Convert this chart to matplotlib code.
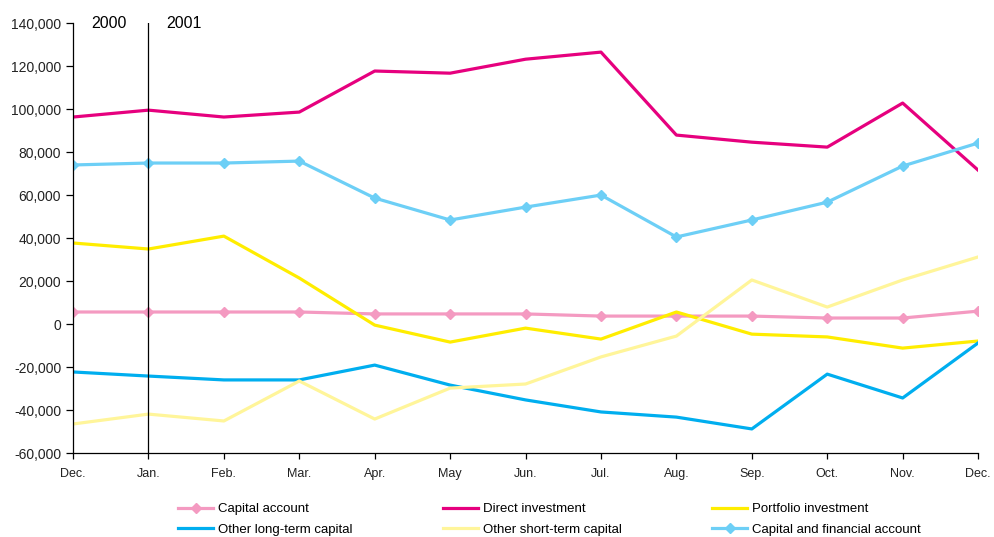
import matplotlib
matplotlib.use("Agg")
import matplotlib.pyplot as plt
from matplotlib.ticker import FuncFormatter

plt.rcParams['font.family'] = ['Liberation Sans', 'DejaVu Sans']

months = ["Dec.", "Jan.", "Feb.", "Mar.", "Apr.", "May", "Jun.", "Jul.",
          "Aug.", "Sep.", "Oct.", "Nov.", "Dec."]

capital_account = [5600, 5600, 5600, 5600, 4700, 4700, 4700, 3700, 3700, 3700, 2800, 2800, 6000]
direct_investment = [96300, 99500, 96300, 98600, 117700, 116700, 123200, 126500,
                     87900, 84600, 82300, 102800, 71600]
portfolio_investment = [37700, 34900, 40900, 21400, -500, -8400, -1900, -7000,
                        5600, -4700, -6000, -11200, -7900]
other_long_term = [-22300, -24200, -26000, -26000, -19100, -28400, -35300, -40900,
                   -43300, -48800, -23300, -34400, -8800]
other_short_term = [-46500, -41900, -45100, -26500, -44200, -29800, -27900, -15300,
                    -5600, 20500, 7900, 20500, 31200]
capital_financial = [74000, 74900, 74900, 75800, 58600, 48400, 54400, 60000,
                     40500, 48400, 56700, 73500, 84200]

x = list(range(len(months)))

fig = plt.figure(figsize=(9.95, 5.37), dpi=100)
ax = fig.add_axes([0.0734, 0.1564, 0.9096, 0.8006])

lw = 2.3
h1, = ax.plot(x, capital_account, color="#F49AC1", lw=lw, marker="D", ms=5.5, label="Capital account")
h2, = ax.plot(x, direct_investment, color="#E6007E", lw=lw, label="Direct investment")
h3, = ax.plot(x, portfolio_investment, color="#FFED00", lw=lw, label="Portfolio investment")
h4, = ax.plot(x, other_long_term, color="#00AEEF", lw=lw, label="Other long-term capital")
h5, = ax.plot(x, other_short_term, color="#FFF59A", lw=lw, label="Other short-term capital")
h6, = ax.plot(x, capital_financial, color="#6DCFF6", lw=lw, marker="D", ms=5.5,
              label="Capital and financial account")

# year divider
ax.axvline(1, color="black", lw=0.9)
ax.text(0.47, 140000, "2000", ha="center", va="center", fontsize=11.5)
ax.text(1.47, 140000, "2001", ha="center", va="center", fontsize=11.5)

ax.set_xlim(0, 12)
ax.set_ylim(-60000, 140000)
ax.set_yticks(range(-60000, 140001, 20000))
ax.yaxis.set_major_formatter(FuncFormatter(lambda v, p: f"{int(v):,}"))
ax.set_xticks(x)
ax.set_xticklabels(months)

for s in ["top", "right"]:
    ax.spines[s].set_visible(False)
ax.spines["left"].set_linewidth(0.9)
ax.spines["bottom"].set_linewidth(0.9)
ax.tick_params(axis="y", labelsize=10, length=5, width=0.9, colors="#222222")
ax.tick_params(axis="x", labelsize=9, length=4, width=0.9, pad=7, colors="#222222")
ax.tick_params(axis="both", color="black")

# legend fills column by column, so order handles to read across rows
handles = [h1, h4, h2, h5, h3, h6]
fig.legend(handles=handles, labels=[h.get_label() for h in handles],
           loc="upper left", bbox_to_anchor=(0.172, 0.0755), ncol=3, frameon=False,
           fontsize=9.5, handlelength=2.7, handletextpad=0.38, columnspacing=6.8,
           labelspacing=0.62, borderpad=0)

fig.savefig("out.png", dpi=100)
